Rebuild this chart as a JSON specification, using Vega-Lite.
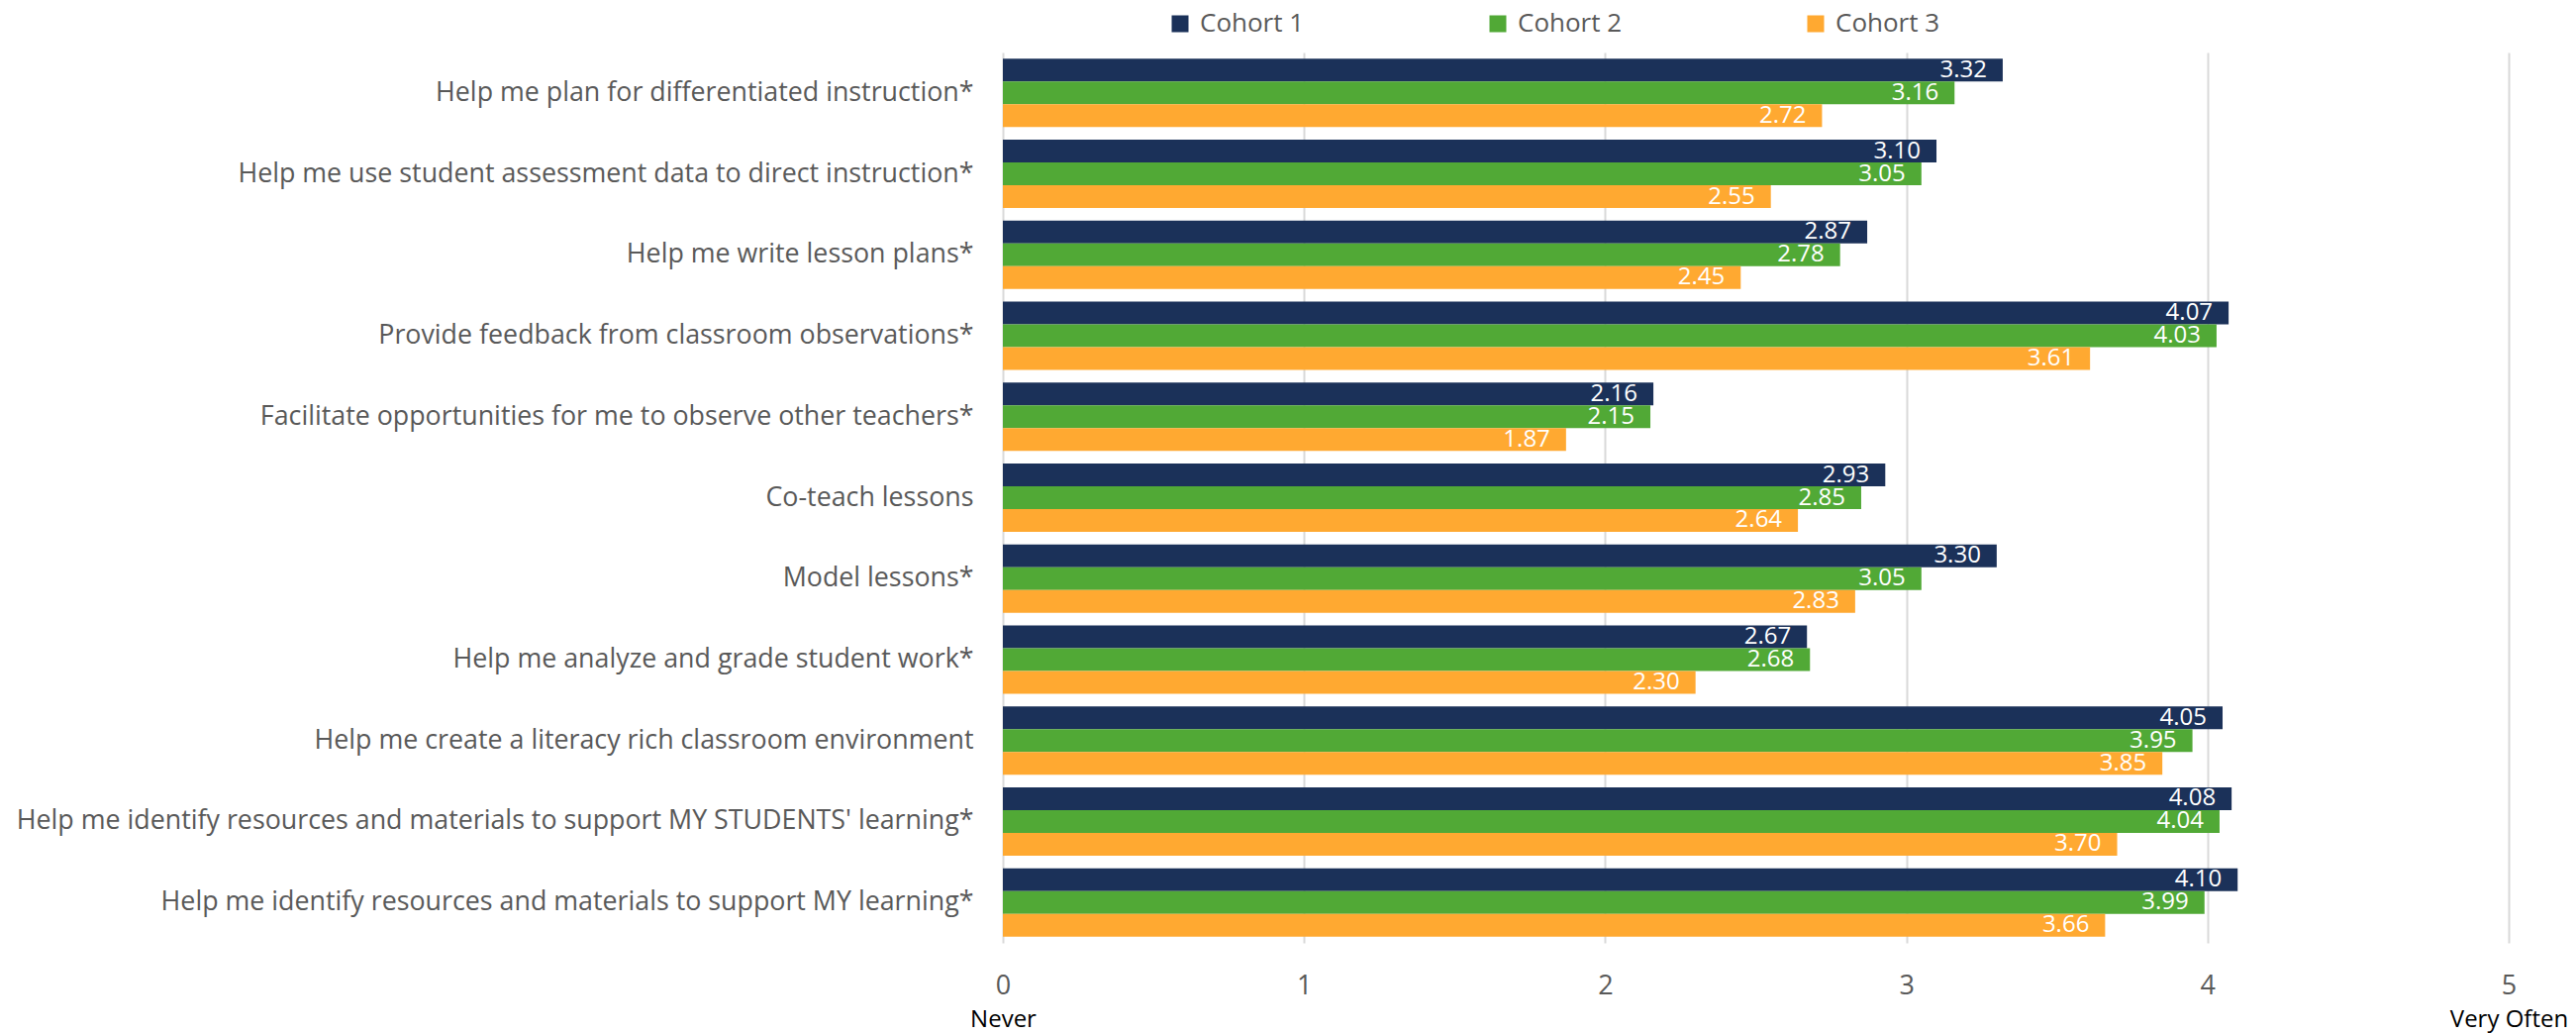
{
  "$schema": "https://vega.github.io/schema/vega-lite/v6.json",
  "autosize": {"type": "none"},
  "padding": {"left": 1013, "top": 53, "right": 68, "bottom": 91},
  "width": 1521,
  "height": 899,
  "background": "white",
  "config": {
    "font": "Open Sans",
    "view": {"stroke": null}
  },
  "data": {
    "values": [
      {"item": "Help me plan for differentiated instruction*", "cohort": "Cohort 1", "score": 3.32},
      {"item": "Help me plan for differentiated instruction*", "cohort": "Cohort 2", "score": 3.16},
      {"item": "Help me plan for differentiated instruction*", "cohort": "Cohort 3", "score": 2.72},
      {"item": "Help me use student assessment data to direct instruction*", "cohort": "Cohort 1", "score": 3.10},
      {"item": "Help me use student assessment data to direct instruction*", "cohort": "Cohort 2", "score": 3.05},
      {"item": "Help me use student assessment data to direct instruction*", "cohort": "Cohort 3", "score": 2.55},
      {"item": "Help me write lesson plans*", "cohort": "Cohort 1", "score": 2.87},
      {"item": "Help me write lesson plans*", "cohort": "Cohort 2", "score": 2.78},
      {"item": "Help me write lesson plans*", "cohort": "Cohort 3", "score": 2.45},
      {"item": "Provide feedback from classroom observations*", "cohort": "Cohort 1", "score": 4.07},
      {"item": "Provide feedback from classroom observations*", "cohort": "Cohort 2", "score": 4.03},
      {"item": "Provide feedback from classroom observations*", "cohort": "Cohort 3", "score": 3.61},
      {"item": "Facilitate opportunities for me to observe other teachers*", "cohort": "Cohort 1", "score": 2.16},
      {"item": "Facilitate opportunities for me to observe other teachers*", "cohort": "Cohort 2", "score": 2.15},
      {"item": "Facilitate opportunities for me to observe other teachers*", "cohort": "Cohort 3", "score": 1.87},
      {"item": "Co-teach lessons", "cohort": "Cohort 1", "score": 2.93},
      {"item": "Co-teach lessons", "cohort": "Cohort 2", "score": 2.85},
      {"item": "Co-teach lessons", "cohort": "Cohort 3", "score": 2.64},
      {"item": "Model lessons*", "cohort": "Cohort 1", "score": 3.30},
      {"item": "Model lessons*", "cohort": "Cohort 2", "score": 3.05},
      {"item": "Model lessons*", "cohort": "Cohort 3", "score": 2.83},
      {"item": "Help me analyze and grade student work*", "cohort": "Cohort 1", "score": 2.67},
      {"item": "Help me analyze and grade student work*", "cohort": "Cohort 2", "score": 2.68},
      {"item": "Help me analyze and grade student work*", "cohort": "Cohort 3", "score": 2.30},
      {"item": "Help me create a literacy rich classroom environment", "cohort": "Cohort 1", "score": 4.05},
      {"item": "Help me create a literacy rich classroom environment", "cohort": "Cohort 2", "score": 3.95},
      {"item": "Help me create a literacy rich classroom environment", "cohort": "Cohort 3", "score": 3.85},
      {"item": "Help me identify resources and materials to support MY STUDENTS' learning*", "cohort": "Cohort 1", "score": 4.08},
      {"item": "Help me identify resources and materials to support MY STUDENTS' learning*", "cohort": "Cohort 2", "score": 4.04},
      {"item": "Help me identify resources and materials to support MY STUDENTS' learning*", "cohort": "Cohort 3", "score": 3.70},
      {"item": "Help me identify resources and materials to support MY learning*", "cohort": "Cohort 1", "score": 4.10},
      {"item": "Help me identify resources and materials to support MY learning*", "cohort": "Cohort 2", "score": 3.99},
      {"item": "Help me identify resources and materials to support MY learning*", "cohort": "Cohort 3", "score": 3.66}
    ]
  },
  "encoding": {
    "y": {
      "field": "item",
      "type": "nominal",
      "sort": null,
      "scale": {"paddingInner": 0.156, "paddingOuter": 0.078},
      "axis": {
        "title": null,
        "domain": false,
        "ticks": false,
        "grid": false,
        "labelFont": "Open Sans",
        "labelFontSize": 26.8,
        "labelColor": "#595959",
        "labelPadding": 30,
        "labelLimit": 1200
      }
    },
    "yOffset": {"field": "cohort", "type": "nominal", "scale": {"paddingInner": 0, "paddingOuter": 0}}
  },
  "layer": [
    {
      "mark": {"type": "bar"},
      "encoding": {
        "x": {
          "field": "score",
          "type": "quantitative",
          "scale": {"domain": [0, 5], "nice": false, "zero": true},
          "axis": {
            "title": null,
            "values": [0, 1, 2, 3, 4, 5],
            "format": "d",
            "grid": true,
            "gridColor": "#d9d9d9",
            "gridWidth": 2,
            "domain": false,
            "ticks": false,
            "labelFlush": false,
            "labelOverlap": false,
            "labelFont": "Open Sans",
            "labelFontSize": 27,
            "labelColor": "#595959",
            "labelPadding": 30
          }
        },
        "color": {
          "field": "cohort",
          "type": "nominal",
          "scale": {
            "domain": ["Cohort 1", "Cohort 2", "Cohort 3"],
            "range": ["#1b3159", "#51a936", "#ffa931"]
          },
          "legend": {
            "title": null,
            "orient": "none",
            "direction": "horizontal",
            "legendX": 166,
            "legendY": -42,
            "symbolType": "square",
            "symbolSize": 289,
            "symbolStrokeWidth": 0,
            "labelFont": "Open Sans",
            "labelFontSize": 26,
            "labelColor": "#595959",
            "labelOffset": 7,
            "columnPadding": 182,
            "padding": 0
          }
        }
      }
    },
    {
      "mark": {"type": "text", "align": "right", "baseline": "middle", "dx": -16, "color": "white", "font": "Open Sans", "fontSize": 24},
      "encoding": {
        "x": {
          "field": "score",
          "type": "quantitative",
          "scale": {"domain": [0, 5], "nice": false, "zero": true},
          "axis": {
            "orient": "bottom",
            "title": null,
            "values": [0, 5],
            "labelExpr": "datum.value == 0 ? 'Never' : 'Very Often'",
            "grid": false,
            "domain": false,
            "ticks": false,
            "labelFlush": false,
            "labelOverlap": false,
            "labelFont": "Open Sans",
            "labelFontSize": 24,
            "labelColor": "black",
            "labelPadding": 65
          }
        },
        "text": {"field": "score", "type": "quantitative", "format": ".2f"}
      }
    }
  ],
  "resolve": {"axis": {"x": "independent"}}
}
